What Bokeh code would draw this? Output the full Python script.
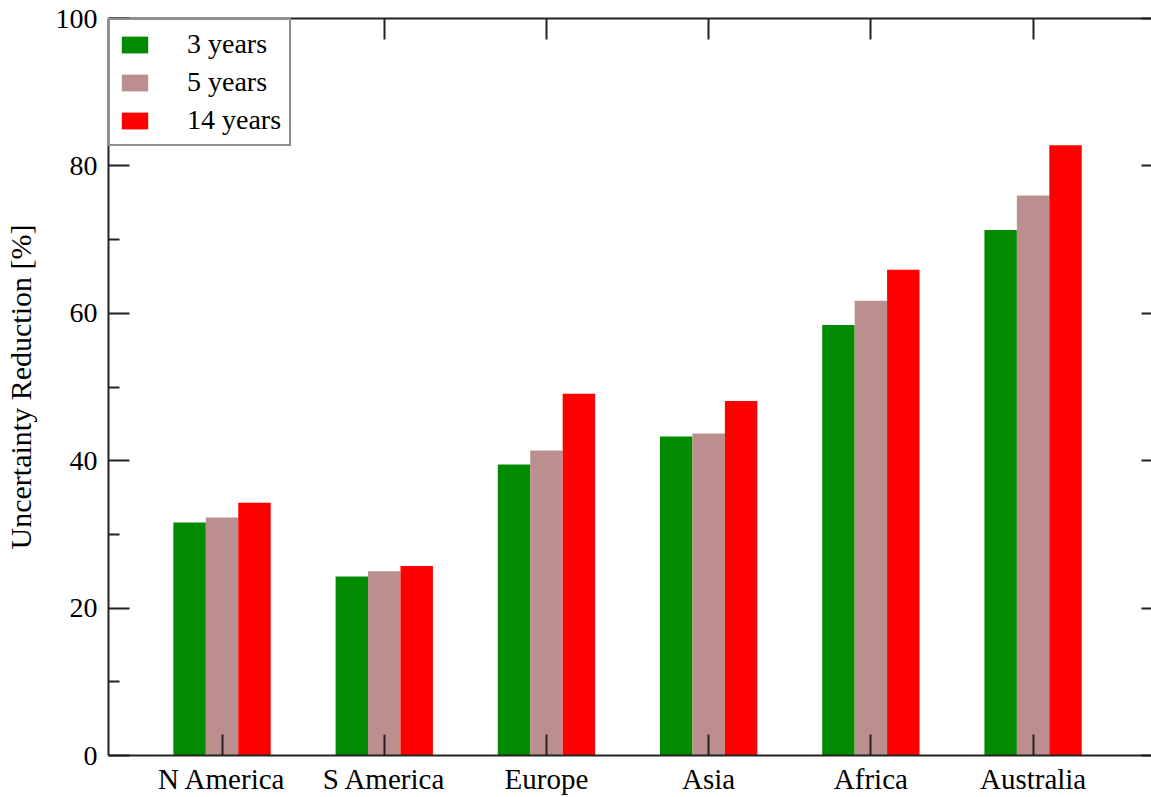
from bokeh.plotting import figure
from bokeh.models import (ColumnDataSource, Range1d, LinearAxis, FixedTicker,
                          Legend, LegendItem, CustomLabelingPolicy)
from bokeh.transform import dodge
from bokeh.embed import file_html
from bokeh.resources import INLINE

# Regions and uncertainty reduction (%) for each observation period
regions = ["N America", "S America", "Europe", "Asia", "Africa", "Australia"]
years_3 = [31.6, 24.3, 39.5, 43.3, 58.4, 71.3]
years_5 = [32.3, 25.0, 41.4, 43.7, 61.7, 76.0]
years_14 = [34.3, 25.7, 49.1, 48.1, 65.9, 82.8]
series_labels = ["3 years", "5 years", "14 years"]
y_ticks = [0, 20, 40, 60, 80, 100]

FONT = "Liberation Serif"
colors = ["#008b00", "#bc8f8f", "#ff0000"]
offsets = [-0.2, 0.0, 0.2]

positions = list(range(1, len(regions) + 1))
source = ColumnDataSource(data=dict(x=positions, y3=years_3, y5=years_5, y14=years_14))

p = figure(width=1151, height=797,
           x_range=Range1d(0.3, 6.73), y_range=Range1d(0, 100),
           output_backend="svg", toolbar_location=None,
           min_border_left=106, min_border_right=0,
           min_border_top=18, min_border_bottom=40)
p.outline_line_color = None
p.grid.visible = False
p.background_fill_color = "white"
p.border_fill_color = "white"

renderers = []
for col, color, off in zip(["y3", "y5", "y14"], colors, offsets):
    r = p.vbar(x=dodge("x", off, range=p.x_range), top=col, width=0.2,
               source=source, fill_color=color, line_color=None)
    renderers.append(r)

# Bottom axis with region names
xa = p.xaxis[0]
xa.ticker = FixedTicker(ticks=positions)
xa.major_label_overrides = {i: name for i, name in zip(positions, regions)}
xa.major_tick_in = 21
xa.major_tick_out = 0
xa.minor_tick_line_color = None
xa.axis_line_width = 2
xa.axis_line_color = "#222222"
xa.major_tick_line_width = 2
xa.major_tick_line_color = "#222222"
xa.major_label_text_font = FONT
xa.major_label_text_font_size = "29px"
xa.major_label_text_color = "black"
xa.major_label_standoff = 7

# Left axis
ya = p.yaxis[0]
ya.ticker = FixedTicker(ticks=y_ticks, minor_ticks=[10, 30, 50, 70, 90])
ya.major_tick_in = 21
ya.major_tick_out = 0
ya.minor_tick_in = 11
ya.minor_tick_out = 0
ya.axis_line_width = 2
ya.axis_line_color = "#222222"
ya.major_tick_line_width = 2
ya.major_tick_line_color = "#222222"
ya.minor_tick_line_width = 2
ya.minor_tick_line_color = "#222222"
ya.major_label_text_font = FONT
ya.major_label_text_font_size = "28px"
ya.major_label_text_color = "black"
ya.major_label_standoff = 11
ya.axis_label = "Uncertainty Reduction [%]"
ya.axis_label_text_font = FONT
ya.axis_label_text_font_size = "30px"
ya.axis_label_text_font_style = "normal"
ya.axis_label_text_color = "black"
ya.axis_label_standoff = 16

# Mirror axes on top and right carry tick marks only, no labels
no_labels = CustomLabelingPolicy(code="for (const i of indices) { if (i < 0) yield i }")

top = LinearAxis(ticker=FixedTicker(ticks=positions), major_label_policy=no_labels)
top.major_tick_in = 21
top.major_tick_out = 0
top.minor_tick_line_color = None
top.axis_line_width = 2
top.axis_line_color = "#222222"
top.major_tick_line_width = 2
top.major_tick_line_color = "#222222"
top.major_label_text_font_size = "0px"
top.major_label_standoff = 0
p.add_layout(top, "above")

right = LinearAxis(ticker=FixedTicker(ticks=y_ticks), major_label_policy=no_labels)
right.major_tick_in = 10
right.major_tick_out = 0
right.minor_tick_line_color = None
right.axis_line_color = None
right.major_tick_line_width = 2
right.major_tick_line_color = "#222222"
right.major_label_text_font_size = "0px"
right.major_label_standoff = 0
p.add_layout(right, "right")

legend = Legend(items=[LegendItem(label=lab, renderers=[r])
                       for lab, r in zip(series_labels, renderers)],
                location="top_left")
legend.margin = 0
legend.padding = 8
legend.spacing = 6
legend.glyph_width = 33
legend.glyph_height = 21
legend.label_standoff = 36
legend.label_text_font = FONT
legend.label_text_font_size = "28px"
legend.label_text_color = "black"
legend.border_line_color = "#222222"
legend.border_line_width = 2
legend.background_fill_color = "white"
legend.background_fill_alpha = 1.0
p.add_layout(legend)

open("out.html", "w").write(file_html(p, INLINE))
